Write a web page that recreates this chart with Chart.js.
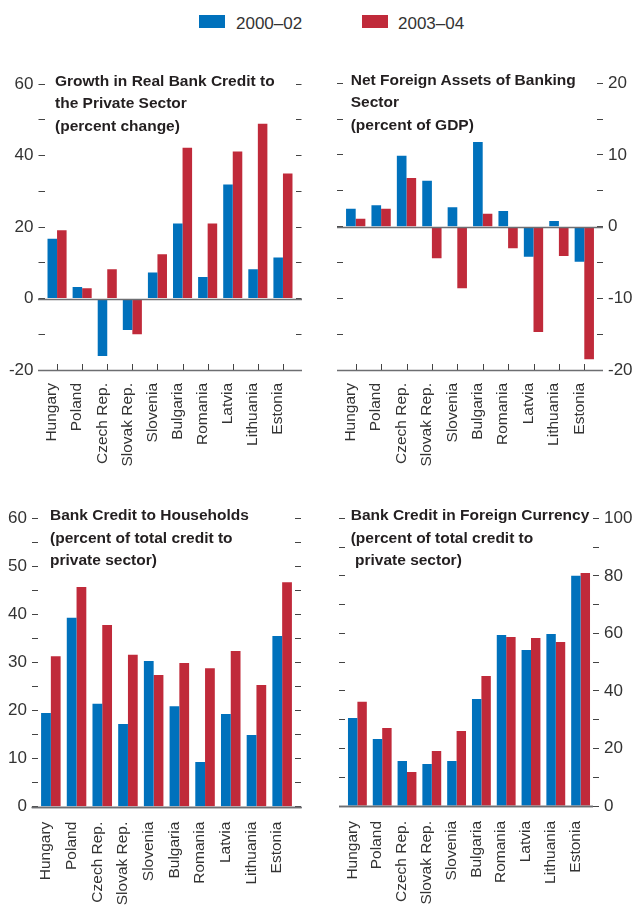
<!DOCTYPE html>
<html>
<head>
<meta charset="utf-8">
<script src="https://cdn.jsdelivr.net/npm/chart.js@4.4.1/dist/chart.umd.min.js"></script>
<style>
    html, body { margin: 0; padding: 0; background: #fff; }
    body { width: 634px; height: 907px; position: relative; overflow: hidden; font-family: 'Liberation Sans', Arial, sans-serif; color: #231f20; }
    .panel { position: absolute; }
    .titulo { position: absolute; font-weight: bold; font-size: 15.5px; line-height: 22.7px; white-space: pre; color: #231f20; }
    .caja { position: absolute; width: 26px; height: 13px; }
    .leyenda { position: absolute; font-size: 17px; line-height: 1; color: #333; }
</style>
</head>
<body>
<div class="caja" style="left:199px; top:15px; background:#0071bc;"></div>
<div class="leyenda" style="left:236px; top:15px;">2000–02</div>
<div class="caja" style="left:362px; top:15px; background:#c02a3a;"></div>
<div class="leyenda" style="left:398px; top:15px;">2003–04</div>

<canvas id="graficoCredito" class="panel" width="317" height="420" style="left:0; top:60px;"></canvas>
<canvas id="graficoActivos" class="panel" width="317" height="420" style="left:317px; top:60px;"></canvas>
<canvas id="graficoHogares" class="panel" width="317" height="417" style="left:0; top:490px;"></canvas>
<canvas id="graficoMoneda" class="panel" width="317" height="417" style="left:317px; top:490px;"></canvas>

<div class="titulo" style="left:55px; top:69.5px;">Growth in Real Bank Credit to
the Private Sector
(percent change)</div>
<div class="titulo" style="left:350.7px; top:68.5px;">Net Foreign Assets of Banking
Sector
(percent of GDP)</div>
<div class="titulo" style="left:50px; top:504px;">Bank Credit to Households
(percent of total credit to
private sector)</div>
<div class="titulo" style="left:350.7px; top:504px;">Bank Credit in Foreign Currency
(percent of total credit to
 private sector)</div>

<script>
const paises = ['Hungary', 'Poland', 'Czech Rep.', 'Slovak Rep.', 'Slovenia', 'Bulgaria', 'Romania', 'Latvia', 'Lithuania', 'Estonia'];
const periodos = ['2000–02', '2003–04'];

const creditoReal0002 = [16.7, 3.2, -16.1, -8.8, 7.3, 21.0, 6.0, 31.9, 8.2, 11.5];
const creditoReal0304 = [19.1, 2.9, 8.2, -10.0, 12.4, 42.2, 21.0, 41.1, 48.9, 35.0];

const activosExternos0002 = [2.5, 3.0, 9.9, 6.4, 2.7, 11.8, 2.2, -4.2, 0.8, -4.9];
const activosExternos0304 = [1.1, 2.5, 6.8, -4.4, -8.6, 1.8, -3.0, -14.7, -4.1, -18.5];

const creditoHogares0002 = [19.5, 39.3, 21.4, 17.2, 30.3, 20.9, 9.3, 19.3, 14.9, 35.5];
const creditoHogares0304 = [31.3, 45.7, 37.8, 31.6, 27.4, 29.9, 28.8, 32.4, 25.3, 46.7];

const monedaExtranjera0002 = [30.6, 23.3, 15.6, 14.6, 15.6, 37.2, 59.4, 54.2, 59.8, 80.0];
const monedaExtranjera0304 = [36.2, 27.1, 11.8, 19.1, 26.1, 45.2, 58.7, 58.4, 57.0, 81.0];

const AZUL = '#0071bc';
const ROJO = '#c02a3a';
const GRIS = '#6d6e71';
const FUENTE = "'Liberation Sans', Arial, sans-serif";

// dibuja la linea del cero, la linea de base y las marcas de abajo
const lineasBase = {
    id: 'lineasBase',
    afterDatasetsDraw(chart, args, opts) {
        const { ctx, chartArea, scales } = chart;
        const y = scales.y;
        ctx.save();
        ctx.strokeStyle = GRIS;
        ctx.lineWidth = 1.5;
        [0, y.min].forEach(v => {
            const py = Math.round(y.getPixelForValue(v)) + 0.5;
            ctx.beginPath();
            ctx.moveTo(chartArea.left - opts.extIzq, py);
            ctx.lineTo(chartArea.right + opts.extDer, py);
            ctx.stroke();
        });
        if (opts.marcasAbajo) {
            ctx.lineWidth = 1;
            ctx.strokeStyle = '#444';
            const base = Math.round(y.getPixelForValue(y.min));
            paises.forEach((p, i) => {
                const px = Math.round(scales.x.getPixelForValue(i)) + 0.5;
                ctx.beginPath();
                ctx.moveTo(px, base);
                ctx.lineTo(px, base - 6);
                ctx.stroke();
            });
        }
        ctx.restore();
    }
};

function ejeY(cfg, lado) {
    const conEtiquetas = cfg.ladoEtiquetas === lado;
    return {
        position: lado,
        min: cfg.min,
        max: cfg.max,
        grid: { drawOnChartArea: false, drawTicks: true, tickLength: 6, color: '#444', lineWidth: 1 },
        border: { display: false },
        ticks: {
            stepSize: cfg.paso,
            autoSkip: false,
            padding: 5,
            color: '#333',
            font: { family: FUENTE, size: 17 },
            callback: v => (conEtiquetas && v % cfg.pasoEtiqueta === 0) ? String(v) : ''
        },
        afterFit: s => { s.width = lado === 'left' ? cfg.anchoIzq : cfg.anchoDer; }
    };
}

function crearPanel(id, serieA, serieB, cfg) {
    const ctx = document.getElementById(id).getContext('2d');
    new Chart(ctx, {
        type: 'bar',
        data: {
            labels: paises,
            datasets: [
                { label: periodos[0], data: serieA, backgroundColor: AZUL, yAxisID: 'y', categoryPercentage: 0.76, barPercentage: 1.0 },
                { label: periodos[1], data: serieB, backgroundColor: ROJO, yAxisID: 'y', categoryPercentage: 0.76, barPercentage: 1.0 }
            ]
        },
        options: {
            responsive: false,
            animation: false,
            devicePixelRatio: 1,
            layout: { padding: { top: cfg.padArriba, bottom: 0, left: 0, right: 0 } },
            plugins: {
                legend: { display: false },
                tooltip: { enabled: false },
                lineasBase: { extIzq: cfg.extIzq, extDer: cfg.extDer, marcasAbajo: cfg.marcasAbajo }
            },
            scales: {
                x: {
                    grid: { display: false, drawTicks: false },
                    border: { display: false },
                    ticks: {
                        autoSkip: false,
                        minRotation: 90,
                        maxRotation: 90,
                        padding: cfg.padEtiquetas,
                        labelOffset: -5,
                        color: '#333',
                        font: { family: FUENTE, size: 15.5 }
                    },
                    afterFit: s => { s.height = cfg.altoX; }
                },
                y: ejeY(cfg, 'left'),
                yDer: ejeY(cfg, 'right')
            }
        },
        plugins: [lineasBase]
    });
}

crearPanel('graficoCredito', creditoReal0002, creditoReal0304, {
    min: -20, max: 60, paso: 10, pasoEtiqueta: 20, ladoEtiquetas: 'left',
    anchoIzq: 44.5, anchoDer: 21.5, padArriba: 24, altoX: 110, padEtiquetas: 13,
    extIzq: 6.5, extDer: 6.5, marcasAbajo: true
});

crearPanel('graficoActivos', activosExternos0002, activosExternos0304, {
    min: -20, max: 20, paso: 5, pasoEtiqueta: 10, ladoEtiquetas: 'right',
    anchoIzq: 26, anchoDer: 37, padArriba: 23.3, altoX: 110, padEtiquetas: 13,
    extIzq: 6, extDer: 6, marcasAbajo: true
});

crearPanel('graficoHogares', creditoHogares0002, creditoHogares0304, {
    min: 0, max: 60, paso: 5, pasoEtiqueta: 10, ladoEtiquetas: 'left',
    anchoIzq: 38, anchoDer: 22, padArriba: 28.3, altoX: 100.3, padEtiquetas: 15,
    extIzq: 6.3, extDer: 6.7, marcasAbajo: false
});

crearPanel('graficoMoneda', monedaExtranjera0002, monedaExtranjera0304, {
    min: 0, max: 100, paso: 10, pasoEtiqueta: 20, ladoEtiquetas: 'right',
    anchoIzq: 28, anchoDer: 41, padArriba: 28.3, altoX: 101, padEtiquetas: 15,
    extIzq: 6, extDer: 0, marcasAbajo: false
});
</script>
</body>
</html>
